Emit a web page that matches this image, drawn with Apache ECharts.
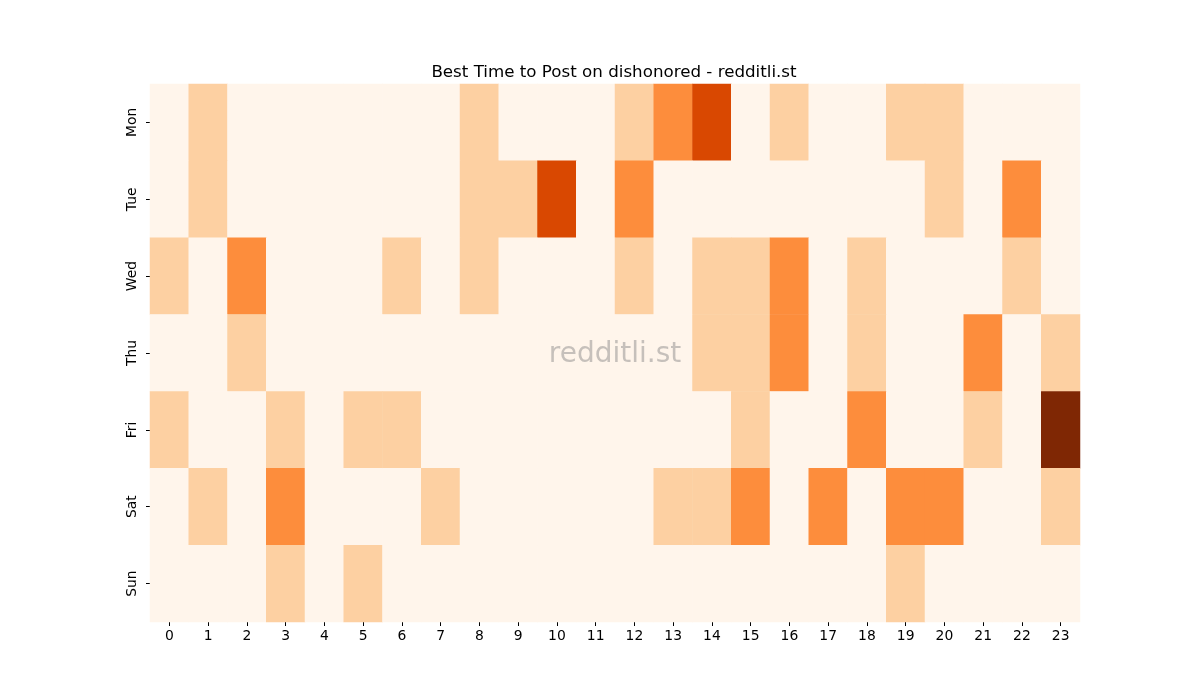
<!DOCTYPE html>
<html>
<head>
<meta charset="utf-8">
<script src="https://cdn.jsdelivr.net/npm/echarts@6/dist/echarts.min.js"></script>
<style>html,body{margin:0;padding:0;background:#fff;}#chart{width:1200px;height:700px;}</style>
</head>
<body>
<div id="chart"></div>
<script>
const hours = ['0','1','2','3','4','5','6','7','8','9','10','11','12','13','14','15','16','17','18','19','20','21','22','23'];
const days = ['Mon','Tue','Wed','Thu','Fri','Sat','Sun'];
const mon = [0,1,0,0,0,0,0,0,1,0,0,0,1,2,3,0,1,0,0,1,1,0,0,0];
const tue = [0,1,0,0,0,0,0,0,1,1,3,0,2,0,0,0,0,0,0,0,1,0,2,0];
const wed = [1,0,2,0,0,0,1,0,1,0,0,0,1,0,1,1,2,0,1,0,0,0,1,0];
const thu = [0,0,1,0,0,0,0,0,0,0,0,0,0,0,1,1,2,0,1,0,0,2,0,1];
const fri = [1,0,0,1,0,1,1,0,0,0,0,0,0,0,0,1,0,0,2,0,0,1,0,4];
const sat = [0,1,0,2,0,0,0,1,0,0,0,0,0,1,1,2,0,2,0,2,2,0,0,1];
const sun = [0,0,0,1,0,1,0,0,0,0,0,0,0,0,0,0,0,0,0,1,0,0,0,0];
const rows = [mon, tue, wed, thu, fri, sat, sun];
const palette = ['#fff5eb','#fdd0a2','#fd8d3c','#d94801','#7f2704'];

const data = [];
rows.forEach((r, d) => r.forEach((v, h) => data.push([h, d, v])));

const chart = echarts.init(document.getElementById('chart'));
chart.setOption({
  animation: false,
  title: {
    text: 'Best Time to Post on dishonored - redditli.st',
    left: 609, top: 59, textAlign: 'center',
    textStyle: {fontFamily: 'DejaVu Sans', fontSize: 16.7, fontWeight: 'normal', color: '#000'}
  },
  grid: {left: 150, right: 120, top: 84, bottom: 78},
  xAxis: {
    type: 'category', data: hours,
    axisLine: {show: false},
    axisTick: {show: true, alignWithLabel: true, length: 4, lineStyle: {color: '#000'}},
    axisLabel: {fontFamily: 'DejaVu Sans', fontSize: 13.9, color: '#000', margin: 7},
    splitLine: {show: false}
  },
  yAxis: {
    type: 'category', data: days, inverse: true,
    axisLine: {show: false},
    axisTick: {show: true, alignWithLabel: true, length: 4, lineStyle: {color: '#000'}},
    axisLabel: {fontFamily: 'DejaVu Sans', fontSize: 13.9, color: '#000', rotate: 90, margin: 11},
    splitLine: {show: false}
  },
  visualMap: {
    show: false, type: 'piecewise', dimension: 2,
    pieces: palette.map((c, i) => ({value: i, color: c}))
  },
  series: [{
    type: 'heatmap', data: data,
    itemStyle: {borderWidth: 0},
    emphasis: {disabled: true}
  }],
  graphic: [{
    type: 'text', x: 615, y: 355, z: 100,
    style: {text: 'redditli.st', fontFamily: 'DejaVu Sans', fontSize: 28, fill: 'rgba(128,128,128,0.45)',
            align: 'center', verticalAlign: 'middle'}
  }]
});
</script>
</body>
</html>
